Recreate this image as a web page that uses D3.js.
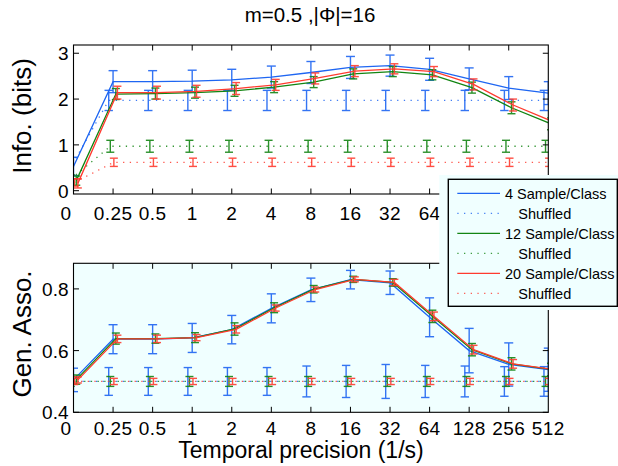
<!DOCTYPE html>
<html><head><meta charset="utf-8">
<script src="https://cdn.jsdelivr.net/npm/d3@7"></script>
<style>html,body{margin:0;padding:0;background:#fff}svg{display:block;font-family:"Liberation Sans",Arial,sans-serif}</style>
</head><body>
<script>
const categories = ["0","0.25","0.5","1","2","4","8","16","32","64","128","256","512"];
const seriesNames = ["4 Sample/Class","12 Sample/Class","20 Sample/Class"];
const colors = ["#1f66f2","#138513","#ff3b2f"];

// top panel: information (bits)
const info4   = [0.53,2.38,2.38,2.39,2.42,2.48,2.58,2.69,2.73,2.65,2.44,2.24,2.13];
const info4E  = [0.20,0.24,0.24,0.24,0.23,0.24,0.24,0.24,0.23,0.24,0.24,0.25,0.25];
const info12  = [0.22,2.11,2.12,2.14,2.18,2.26,2.37,2.55,2.60,2.53,2.25,1.81,1.46];
const info12E = [0.10,0.12,0.12,0.12,0.12,0.12,0.12,0.11,0.11,0.11,0.12,0.13,0.13];
const info20  = [0.16,2.14,2.14,2.17,2.23,2.31,2.45,2.61,2.66,2.60,2.32,1.87,1.51];
const info20E = [0.10,0.14,0.14,0.13,0.13,0.12,0.12,0.12,0.11,0.11,0.12,0.13,0.13];
const infoSh4   = [0.45,1.97,1.97,1.97,1.97,1.97,1.97,1.97,1.97,1.97,1.97,1.97,1.97];
const infoSh4E  = [0.20,0.22,0.22,0.22,0.22,0.22,0.22,0.22,0.22,0.22,0.22,0.22,0.22];
const infoSh12  = [0.25,0.97,0.97,0.97,0.97,0.97,0.97,0.97,0.97,0.97,0.97,0.97,0.97];
const infoSh12E = [0.10,0.13,0.13,0.13,0.13,0.13,0.13,0.13,0.13,0.13,0.13,0.13,0.13];
const infoSh20  = [0.18,0.62,0.62,0.62,0.62,0.62,0.62,0.62,0.62,0.62,0.62,0.62,0.62];
const infoSh20E = [0.08,0.09,0.09,0.09,0.09,0.09,0.09,0.09,0.09,0.09,0.09,0.09,0.09];

// bottom panel: generalized association
const gen4   = [0.505,0.637,0.637,0.641,0.668,0.737,0.797,0.830,0.820,0.708,0.600,0.555,0.538];
const gen4E  = [0.038,0.047,0.047,0.047,0.046,0.047,0.038,0.030,0.038,0.063,0.072,0.070,0.070];
const gen12  = [0.506,0.639,0.639,0.642,0.670,0.739,0.799,0.831,0.821,0.711,0.603,0.557,0.539];
const gen12E = [0.015,0.018,0.015,0.016,0.020,0.016,0.012,0.010,0.012,0.020,0.020,0.020,0.020];
const gen20  = [0.505,0.638,0.638,0.642,0.669,0.738,0.798,0.831,0.821,0.711,0.603,0.557,0.539];
const gen20E = [0.010,0.012,0.012,0.010,0.012,0.010,0.008,0.008,0.010,0.014,0.014,0.014,0.014];
const genSh4   = [0.500,0.500,0.500,0.500,0.500,0.500,0.500,0.500,0.500,0.500,0.500,0.500,0.500];
const genSh4E  = [0.040,0.045,0.045,0.045,0.045,0.045,0.050,0.052,0.055,0.052,0.050,0.048,0.048];
const genSh12  = [0.500,0.500,0.500,0.500,0.500,0.500,0.500,0.500,0.500,0.500,0.500,0.500,0.500];
const genSh12E = [0.016,0.016,0.016,0.016,0.016,0.016,0.016,0.016,0.016,0.016,0.016,0.016,0.016];
const genSh20  = [0.500,0.500,0.500,0.500,0.500,0.500,0.500,0.500,0.500,0.500,0.500,0.500,0.500];
const genSh20E = [0.010,0.010,0.010,0.010,0.010,0.010,0.010,0.010,0.010,0.010,0.010,0.010,0.010];

const infoTicks = [0,1,2,3];
const genTicks = [0.4,0.6,0.8];
const titleText = "m=0.5 ,|Φ|=16";

// horizontal jitter (in category units) for each curve
const offLine = [0, 0.07, 0.11];
const offSh = [-0.11, -0.07, 0.02];

const W = 618, H = 466;
const svg = d3.select("body").append("svg").attr("width", W).attr("height", H);

const x = d3.scaleLinear().domain([0, 12]).range([73.5, 548.3]);

function panel(id, top, bottom, ydom, ticks, fmt, bg, lines, lineErr, shs, shErr, ylab, ylabY, tickBase) {
  const y = d3.scaleLinear().domain(ydom).range([bottom, top]);
  const g = svg.append("g");
  g.append("rect").attr("x", x(0)).attr("y", top).attr("width", x(12) - x(0)).attr("height", bottom - top)
    .attr("fill", bg);
  svg.append("clipPath").attr("id", id).append("rect")
    .attr("x", x(0)).attr("y", top).attr("width", x(12) - x(0)).attr("height", bottom - top);
  const plot = g.append("g").attr("clip-path", `url(#${id})`);
  for (let s = 0; s < 3; s++) {
    const pts = lines[s].map((v, i) => [i + offLine[s], v, lineErr[s][i]]);
    const sp = shs[s].map((v, i) => [i + offSh[s], v, shErr[s][i]]);
    const drawSet = (data, dotted, cap) => {
      plot.append("path").datum(data)
        .attr("d", d3.line().x(d => x(d[0])).y(d => y(d[1])))
        .attr("fill", "none").attr("stroke", colors[s])
        .attr("stroke-width", 1.3)
        .attr("stroke-dasharray", dotted ? "1.3,5.4" : null)
        .attr("opacity", dotted ? 0.85 : 1);
      const eb = plot.append("g").attr("stroke", colors[s]).attr("stroke-width", 1.4).attr("opacity", 0.9);
      data.forEach(d => {
        const cx = x(d[0]), y1 = y(d[1] - d[2]), y2 = y(d[1] + d[2]);
        eb.append("line").attr("x1", cx).attr("x2", cx).attr("y1", y1).attr("y2", y2);
        eb.append("line").attr("x1", cx - cap).attr("x2", cx + cap).attr("y1", y1).attr("y2", y1);
        eb.append("line").attr("x1", cx - cap).attr("x2", cx + cap).attr("y1", y2).attr("y2", y2);
      });
    };
    drawSet(pts, false, s === 0 ? 4.5 : 4);
    drawSet(sp, true, s === 0 ? 4.2 : 4);
  }
  g.append("rect").attr("x", x(0)).attr("y", top).attr("width", x(12) - x(0)).attr("height", bottom - top)
    .attr("fill", "none").attr("stroke", "#000").attr("stroke-width", 1.1);
  const tl = 5.5;
  const ax = g.append("g").attr("stroke", "#000").attr("stroke-width", 1);
  d3.range(1, 12).forEach(i => {
    ax.append("line").attr("x1", x(i)).attr("x2", x(i)).attr("y1", bottom).attr("y2", bottom - tl);
    ax.append("line").attr("x1", x(i)).attr("x2", x(i)).attr("y1", top).attr("y2", top + tl);
  });
  ticks.forEach(t => {
    ax.append("line").attr("x1", x(0)).attr("x2", x(0) + tl).attr("y1", y(t)).attr("y2", y(t));
    ax.append("line").attr("x1", x(12)).attr("x2", x(12) - tl).attr("y1", y(t)).attr("y2", y(t));
  });
  const tx = g.append("g").attr("font-size", 19).attr("fill", "#000");
  categories.forEach((c, i) => {
    tx.append("text").attr("x", x(i === 0 ? -0.19 : i)).attr("y", tickBase).attr("text-anchor", "middle")
      .attr("letter-spacing", 0.4).text(c);
  });
  ticks.forEach(t => {
    tx.append("text").attr("x", 68.5).attr("y", y(t) + 7).attr("text-anchor", "end").text(fmt(t));
  });
  g.append("text").attr("transform", `translate(31,${ylabY}) rotate(-90)`)
    .attr("text-anchor", "middle").attr("font-size", 26).text(ylab);
}

panel("clipTop", 45, 194, [-0.072, 3.18], infoTicks, d => String(d), "#ffffff",
  [info4, info12, info20], [info4E, info12E, info20E],
  [infoSh4, infoSh12, infoSh20], [infoSh4E, infoSh12E, infoSh20E], "Info. (bits)", 116, 219.5);

panel("clipBot", 263.3, 412.3, [0.4, 0.883], genTicks, d => d.toFixed(1), "#f0ffff",
  [gen4, gen12, gen20], [gen4E, gen12E, gen20E],
  [genSh4, genSh12, genSh20], [genSh4E, genSh12E, genSh20E], "Gen. Asso.", 334, 435);

svg.append("text").attr("x", 310).attr("y", 22).attr("text-anchor", "middle").attr("font-size", 20.5).text(titleText);
svg.append("text").attr("x", 301).attr("y", 457.5).attr("text-anchor", "middle").attr("font-size", 23).text("Temporal precision (1/s)");

// legend
svg.append("rect").attr("x", 439.3).attr("y", 175).attr("width", W - 439.3).attr("height", 135).attr("fill", "#f0ffff");
svg.append("rect").attr("x", 448.3).attr("y", 179.3).attr("width", 169).attr("height", 127)
  .attr("fill", "none").attr("stroke", "#000").attr("stroke-width", 1.4);
const legendRows = [];
seriesNames.forEach((n, s) => { legendRows.push({label: n, s, dotted: false}); legendRows.push({label: "Shuffled", s, dotted: true}); });
legendRows.forEach((r, k) => {
  const cy = 193.3 + k * 20;
  svg.append("line").attr("x1", 457.3).attr("x2", 500).attr("y1", cy).attr("y2", cy)
    .attr("stroke", colors[r.s]).attr("stroke-width", 1.3).attr("stroke-dasharray", r.dotted ? "1.3,5.4" : null)
    .attr("opacity", r.dotted ? 0.8 : 1);
  svg.append("text").attr("x", r.dotted ? 518.3 : 505).attr("y", cy + 5.3).attr("font-size", 14.5).text(r.label);
});
</script>
</body></html>
